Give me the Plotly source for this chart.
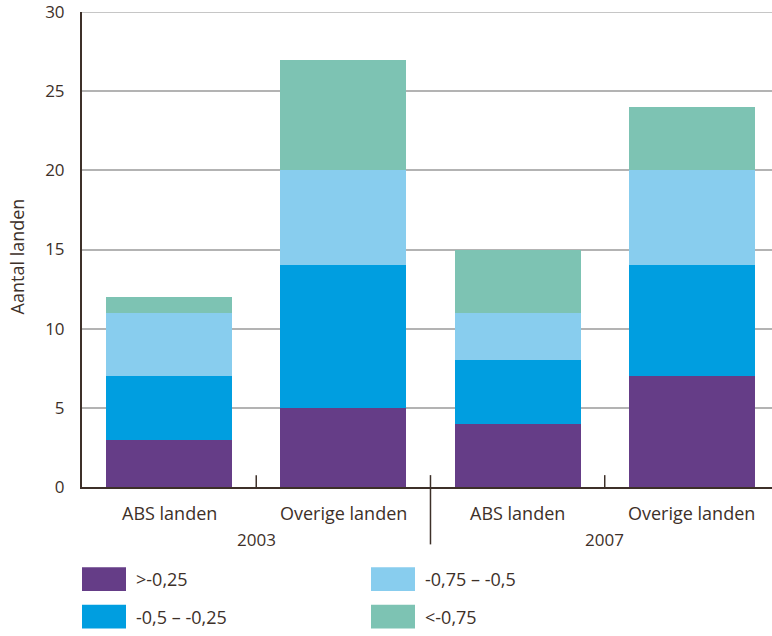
import plotly.graph_objects as go

categories = ["ABS landen", "Overige landen", "ABS landen", "Overige landen"]
years = ["2003", "2007"]
series_names = [">-0,25", "-0,5 – -0,25", "-0,75 – -0,5", "<-0,75"]
series_values = [
    [3, 5, 4, 7],
    [4, 9, 4, 7],
    [4, 6, 3, 6],
    [1, 7, 4, 4],
]
colors = ["#653d87", "#009ee0", "#88cdee", "#7dc3b3"]

W, H = 772, 636
L, R, T, B = 82, 772, 7, 487
TXT = "#3d3029"
FONT = "Open Sans"

def px(x):
    return (x - L) / (R - L)

def py(y):
    return (B - y) / (B - T)

xpos = list(range(len(categories)))
fig = go.Figure()
for name, vals, col in zip(series_names, series_values, colors):
    fig.add_trace(go.Bar(x=xpos, y=vals, name=name, marker=dict(color=col, line=dict(width=0)),
                         width=0.723, showlegend=False))

shapes = []
annotations = []
# top gridline
shapes.append(dict(type="line", xref="paper", yref="y", x0=0, x1=1, y0=30, y1=30,
                   line=dict(color="#b3b3b3", width=1.5), layer="below"))
# separators
for xs in [0.5, 2.5]:
    shapes.append(dict(type="line", xref="x", yref="y", x0=xs, x1=xs, y0=0, y1=0.75,
                       line=dict(color=TXT, width=1.5)))
shapes.append(dict(type="line", xref="x", yref="paper", x0=1.5, x1=1.5, y0=py(545), y1=py(475),
                   line=dict(color=TXT, width=1.5)))
# category labels
for i, c in enumerate(categories):
    annotations.append(dict(x=i, y=0, xref="x", yref="paper", text=c, showarrow=False,
                            yanchor="middle", yshift=-26, font=dict(size=18, color=TXT, family=FONT)))
for j, yr in enumerate(years):
    annotations.append(dict(x=2 * j + 0.5, y=0, xref="x", yref="paper", text=yr, showarrow=False,
                            yanchor="middle", yshift=-52, font=dict(size=17, color=TXT, family=FONT)))
# y title
annotations.append(dict(x=px(17), y=py(254), xref="paper", yref="paper", text="Aantal landen",
                        textangle=-90, showarrow=False, xanchor="center", yanchor="middle",
                        font=dict(size=18, color=TXT, family=FONT)))
# legend
leg_pos = [(82, 568), (82, 606), (371, 568), (371, 606)]
for (lx, ly), name, col in zip(leg_pos, series_names, colors):
    shapes.append(dict(type="rect", xref="paper", yref="paper", x0=px(lx), x1=px(lx + 44),
                       y0=py(ly + 24), y1=py(ly), fillcolor=col, line=dict(width=0)))
    annotations.append(dict(x=px(lx + 52), y=py(ly + 12), xref="paper", yref="paper", text=name,
                            showarrow=False, xanchor="left", yanchor="middle",
                            font=dict(size=18, color=TXT, family=FONT)))

fig.update_layout(
    barmode="stack",
    width=W, height=H,
    margin=dict(l=L, r=W - R, t=T, b=H - B, pad=0),
    paper_bgcolor="white", plot_bgcolor="white",
    font=dict(family=FONT, color=TXT, size=17),
    xaxis=dict(range=[-0.5, 3.46], showticklabels=False, showgrid=False, zeroline=False,
               showline=True, linecolor=TXT, linewidth=2, ticks=""),
    yaxis=dict(range=[0, 30], tickvals=[0, 5, 10, 15, 20, 25, 30], showgrid=True,
               gridcolor="#b3b3b3", gridwidth=1.5, zeroline=False, showline=True,
               linecolor=TXT, linewidth=2, ticks="", ticklabelstandoff=12,
               ticklabeloverflow="allow",
               tickfont=dict(size=17, color=TXT, family=FONT)),
    shapes=shapes, annotations=annotations,
    bargap=0,
)
fig.write_html("out.html", config={"displayModeBar": False},
               post_script="document.body.style.margin='0px';")
